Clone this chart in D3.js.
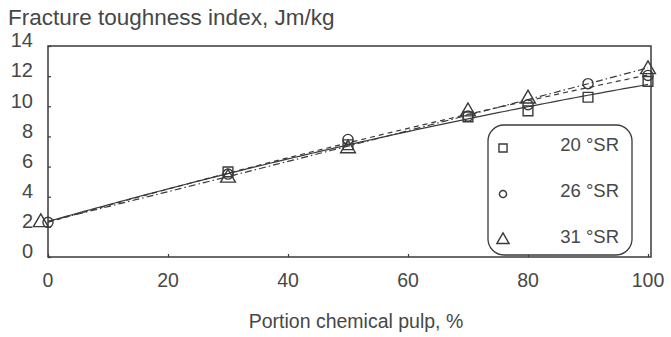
<!DOCTYPE html>
<html><head><meta charset="utf-8">
<script src="https://cdn.jsdelivr.net/npm/d3@7"></script>
<style>
body{margin:0;background:#fff}
text{font-family:"Liberation Sans",Arial,sans-serif;fill:#474747}
</style>
</head><body>
<svg id="chart" width="671" height="337"></svg>
<script>
// Axis ticks
const yTicks = [0, 2, 4, 6, 8, 10, 12, 14];
const xTicks = [0, 20, 40, 60, 80, 100];

// Series: beating degree of the chemical pulp
const seriesNames = ["20 °SR", "26 °SR", "31 °SR"];
const pulp20 = [30, 50, 70, 80, 90, 100];
const toughness20 = [5.65, 7.45, 9.3, 9.7, 10.6, 11.65];
const pulp26 = [0, 30, 50, 70, 80, 90, 100];
const toughness26 = [2.3, 5.5, 7.8, 9.35, 10.1, 11.5, 12.05];
const pulp31 = [-1.2, 30, 50, 70, 80, 100];
const toughness31 = [2.3, 5.25, 7.2, 9.65, 10.5, 12.45];
// 100 % mechanical pulp, shared by all series
const mechanicalOnly = [0, 2.3];

const series = [
  {name: seriesNames[0], x: pulp20, y: toughness20, symbol: d3.symbolSquare, dash: null},
  {name: seriesNames[1], x: pulp26, y: toughness26, symbol: d3.symbolCircle, dash: "5,4"},
  {name: seriesNames[2], x: pulp31, y: toughness31, symbol: d3.symbolTriangle, dash: "7,3,1.5,3"}
];

const svg = d3.select("#chart");
const m = {left: 48, right: 20, top: 46, bottom: 80};
const W = 671, H = 337;
const x = d3.scaleLinear().domain([0, 100.5]).range([m.left, W - m.right]);
const y = d3.scaleLinear().domain([0, 14]).range([H - m.bottom, m.top]);
const ink = "#3a3a3a";

// Second-order least-squares trend through a series
function quadFit(xs, ys) {
  const S = Array.from({length: 5}, (_, k) => d3.sum(xs, v => Math.pow(v, k)));
  const T = Array.from({length: 3}, (_, k) => d3.sum(xs, (v, i) => Math.pow(v, k) * ys[i]));
  const A = [[S[0], S[1], S[2], T[0]], [S[1], S[2], S[3], T[1]], [S[2], S[3], S[4], T[2]]];
  for (let i = 0; i < 3; i++) {
    for (let j = i + 1; j < 3; j++) {
      const f = A[j][i] / A[i][i];
      for (let k = i; k < 4; k++) A[j][k] -= f * A[i][k];
    }
  }
  const c = [0, 0, 0];
  for (let i = 2; i >= 0; i--) {
    let s = A[i][3];
    for (let k = i + 1; k < 3; k++) s -= A[i][k] * c[k];
    c[i] = s / A[i][i];
  }
  return v => c[0] + c[1] * v + c[2] * v * v;
}

// Frame
svg.append("rect")
  .attr("x", x(0)).attr("y", y(14))
  .attr("width", x(100.5) - x(0)).attr("height", y(0) - y(14))
  .attr("fill", "none").attr("stroke", ink).attr("stroke-width", 1.5);

// Axes with short inward ticks
const yAxis = svg.append("g").attr("transform", `translate(${x(0)},0)`)
  .call(d3.axisLeft(y).tickValues(yTicks).tickSize(-3).tickFormat(""));
const xAxis = svg.append("g").attr("transform", `translate(0,${y(0)})`)
  .call(d3.axisBottom(x).tickValues(xTicks).tickSize(-3).tickFormat(""));
[yAxis, xAxis].forEach(g => {
  g.select(".domain").remove();
  g.selectAll("line").attr("stroke", ink).attr("stroke-width", 1.2);
});

svg.selectAll(".ylab").data(yTicks).join("text")
  .attr("class", "ylab")
  .attr("x", 33).attr("y", d => y(d) - 4)
  .attr("text-anchor", "end").attr("dominant-baseline", "middle")
  .attr("font-size", 20).text(d => d);

svg.selectAll(".xlab").data(xTicks).join("text")
  .attr("class", "xlab")
  .attr("x", d => x(d)).attr("y", 282)
  .attr("text-anchor", "middle").attr("dominant-baseline", "middle")
  .attr("font-size", 19.5).text(d => d);

svg.append("text").attr("x", 356).attr("y", 323)
  .attr("text-anchor", "middle").attr("dominant-baseline", "middle")
  .attr("font-size", 19.5).text("Portion chemical pulp, %");

svg.append("text").attr("x", 8).attr("y", 19)
  .attr("dominant-baseline", "middle")
  .attr("font-size", 22.5).text("Fracture toughness index, Jm/kg");

// Trend curves
const grid = d3.range(0, 100.01, 1);
series.forEach(s => {
  const xs = s.x[0] <= 0 ? s.x : [mechanicalOnly[0], ...s.x];
  const ys = s.x[0] <= 0 ? s.y : [mechanicalOnly[1], ...s.y];
  const f = quadFit(xs, ys);
  svg.append("path")
    .datum(grid)
    .attr("d", d3.line().x(d => x(d)).y(d => y(f(d))))
    .attr("fill", "none").attr("stroke", ink).attr("stroke-width", 1.2)
    .attr("stroke-dasharray", s.dash);
});

// Measured points
series.forEach(s => {
  const sym = d3.symbol().type(s.symbol).size(s.symbol === d3.symbolCircle ? 80 : 95);
  svg.append("g").selectAll("path")
    .data(s.x.map((v, i) => [v, s.y[i]]))
    .join("path")
    .attr("transform", d => `translate(${x(d[0])},${y(d[1])})`)
    .attr("d", sym)
    .attr("fill", "none").attr("stroke", ink).attr("stroke-width", 1.4);
});

// Legend
const lg = svg.append("g");
lg.append("rect").attr("x", 488).attr("y", 125).attr("width", 144).attr("height", 130)
  .attr("rx", 16).attr("fill", "#fff").attr("stroke", ink).attr("stroke-width", 1.3);
series.forEach((s, i) => {
  const cy = 146 + i * 46;
  lg.append("path")
    .attr("transform", `translate(503,${cy + 2})`)
    .attr("d", d3.symbol().type(s.symbol).size(s.symbol === d3.symbolCircle ? 40 : 65))
    .attr("fill", "none").attr("stroke", ink).attr("stroke-width", 1.4);
  lg.append("text").attr("x", 619).attr("y", cy)
    .attr("text-anchor", "end").attr("dominant-baseline", "middle")
    .attr("font-size", 18.5).text(s.name);
});
</script>
</body></html>
